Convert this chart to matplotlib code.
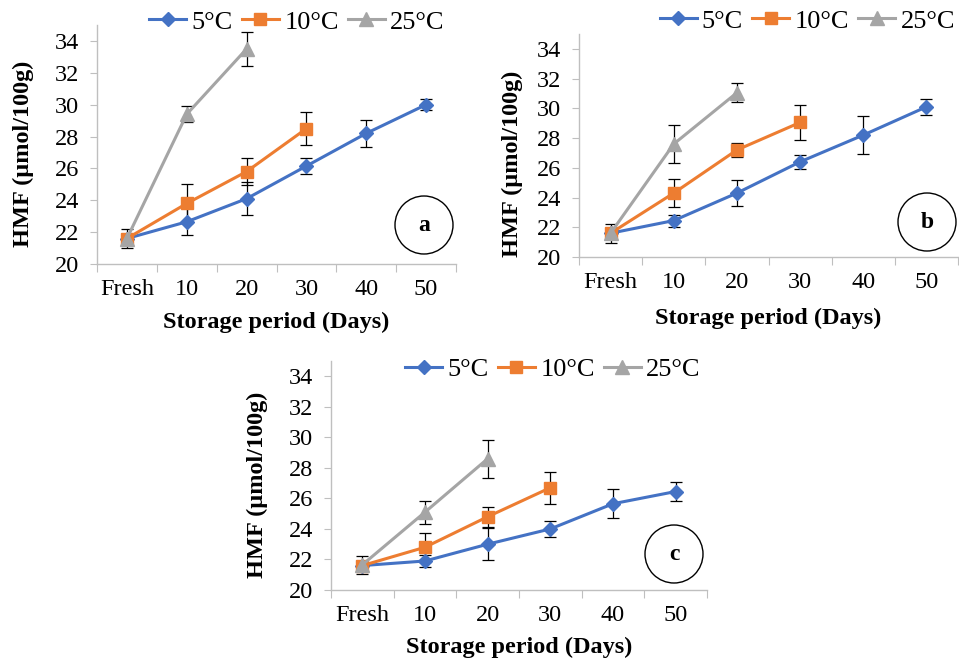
import matplotlib
matplotlib.use("Agg")
import matplotlib.pyplot as plt
from matplotlib.patches import Ellipse

plt.rcParams['font.family'] = ['Liberation Serif', 'DejaVu Serif']

# Categories on x axis
categories = ["Fresh", "10", "20", "30", "40", "50"]
series_names = ["5°C", "10°C", "25°C"]

# Panel a: HMF mean values and error bars
a_5 = [21.6, 22.65, 24.1, 26.15, 28.2, 30.0]
a_5_err = [0.3, 0.85, 1.05, 0.5, 0.85, 0.35]
a_10 = [21.6, 23.8, 25.8, 28.5]
a_10_err = [0.3, 1.2, 0.85, 1.05]
a_25 = [21.6, 29.4, 33.5]
a_25_err = [0.6, 0.5, 1.05]

# Panel b
b_5 = [21.6, 22.45, 24.3, 26.4, 28.2, 30.1]
b_5_err = [0.3, 0.4, 0.85, 0.45, 1.3, 0.55]
b_10 = [21.6, 24.3, 27.2, 29.05]
b_10_err = [0.3, 0.95, 0.45, 1.15]
b_25 = [21.6, 27.6, 31.05]
b_25_err = [0.65, 1.3, 0.65]

# Panel c
c_5 = [21.6, 21.9, 23.0, 24.0, 25.65, 26.45]
c_5_err = [0.3, 0.4, 1.05, 0.55, 0.95, 0.65]
c_10 = [21.6, 22.8, 24.8, 26.7]
c_10_err = [0.3, 0.95, 0.65, 1.05]
c_25 = [21.65, 25.1, 28.6]
c_25_err = [0.6, 0.75, 1.25]

colors = ["#4472C4", "#ED7D31", "#A5A5A5"]
markers = ["D", "s", "^"]
msizes = [7.5, 9, 10]
axis_gray = "#BFBFBF"

W, H = 959, 669
fig = plt.figure(figsize=(W / 100, H / 100), dpi=100)


def make_panel(rect, data, letter, ylab_x, ylab_y, xlab_y, circle, legend_xy, legend_loc):
    left, right, top, bottom = rect
    ax = fig.add_axes([left / W, 1 - bottom / H, (right - left) / W, (bottom - top) / H])
    handles = []
    for i, (vals, errs) in enumerate(data):
        x = list(range(len(vals)))
        ax.errorbar(x, vals, yerr=errs, fmt="none", ecolor="black",
                    elinewidth=0.9, capsize=4, capthick=0.9, zorder=2)
        h, = ax.plot(x, vals, color=colors[i], lw=2.2, marker=markers[i],
                     markersize=msizes[i], zorder=3)
        handles.append(h)

    ax.set_xlim(-0.5, 5.5)
    ax.set_ylim(20, 35)
    ax.set_yticks(range(20, 35, 2))
    ax.set_xticks([i - 0.5 for i in range(7)])
    ax.set_xticklabels([])
    ax.set_xticks(range(6), minor=True)
    ax.set_xticklabels(categories, minor=True)
    ax.tick_params(axis="x", which="major", length=6, color=axis_gray, direction="out")
    ax.tick_params(axis="x", which="minor", length=0, pad=11, labelsize=17.5)
    ax.tick_params(axis="y", length=5, color=axis_gray, pad=8, labelsize=17.5)
    for s in ["top", "right"]:
        ax.spines[s].set_visible(False)
    for s in ["left", "bottom"]:
        ax.spines[s].set_color(axis_gray)
        ax.spines[s].set_linewidth(1.0)

    ax.set_ylabel("HMF (µmol/100g)", fontsize=17.5, fontweight="bold")
    ax.yaxis.set_label_coords(ylab_x, ylab_y)
    ax.set_xlabel("Storage period (Days)", fontsize=17.5, fontweight="bold")
    ax.xaxis.set_label_coords(0.5, xlab_y)

    cx, cy = circle
    fig.patches.append(Ellipse((cx / W, 1 - cy / H), 58 / W, 58 / H, fill=False,
                               edgecolor="black", lw=1.0, transform=fig.transFigure))
    fig.text(cx / W, 1 - cy / H, letter, ha="center", va="center",
             fontsize=17, fontweight="bold")

    lx, ly = legend_xy
    fig.legend(handles, series_names, loc=legend_loc, bbox_to_anchor=(lx / W, 1 - ly / H),
               ncol=3, frameon=False, fontsize=19, handlelength=1.4,
               columnspacing=0.35, handletextpad=0.2, borderpad=0, borderaxespad=0)
    return ax


make_panel((97, 456, 25, 264),
           [(a_5, a_5_err), (a_10, a_10_err), (a_25, a_25_err)],
           "a", -0.175, 0.46, -0.2, (424, 225), (297, 22), "center")
make_panel((579, 958, 34, 257),
           [(b_5, b_5_err), (b_10, b_10_err), (b_25, b_25_err)],
           "b", -0.148, 0.42, -0.23, (927, 222), (955, 21), "center right")
make_panel((331, 707, 361, 590),
           [(c_5, c_5_err), (c_10, c_10_err), (c_25, c_25_err)],
           "c", -0.168, 0.46, -0.205, (674, 554), (553, 369), "center")

fig.savefig("out.png", dpi=100)
